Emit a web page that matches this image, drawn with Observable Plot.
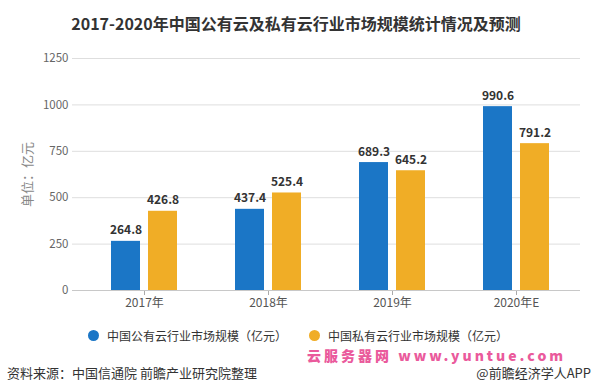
<!DOCTYPE html>
<html><head><meta charset="utf-8">
<script src="https://cdn.jsdelivr.net/npm/d3@7"></script>
<script src="https://cdn.jsdelivr.net/npm/@observablehq/plot@0.6"></script>
<style>
body{margin:0;background:#fff;font-family:"Noto Sans CJK SC","Noto Sans",sans-serif;}
#wrap{position:relative;width:592px;height:391px;overflow:hidden;background:#fff;}
#title{position:absolute;left:0;top:12px;width:592px;text-align:center;font-size:16px;font-weight:bold;color:#333;line-height:22px;}
#chart{position:absolute;left:0;top:46px;}
#legend{position:absolute;left:88px;top:328.5px;display:flex;gap:22px;font-size:12px;color:#333;line-height:14px;}
#legend .item{display:flex;align-items:center;gap:8px;}
#legend .dot{width:11px;height:11px;border-radius:50%;}
#wm{position:absolute;left:307px;top:347.5px;font-size:14px;font-weight:900;letter-spacing:3px;color:#ea5a9c;line-height:14px;white-space:nowrap;}
#src{position:absolute;left:7px;top:365px;font-size:13px;color:#333;line-height:16px;white-space:nowrap;}
#app{position:absolute;right:1px;top:365px;font-size:13px;color:#333;line-height:16px;white-space:nowrap;}
</style></head><body>
<div id="wrap">
<div id="title">2017-2020年中国公有云及私有云行业市场规模统计情况及预测</div>
<div id="chart"></div>
<div id="legend"></div>
<div id="wm">云服务器网 www.yuntue.com</div>
<div id="src">资料来源：中国信通院 前瞻产业研究院整理</div>
<div id="app">@前瞻经济学人APP</div>
</div>
<script>
const years = ["2017年", "2018年", "2019年", "2020年E"];
const publicCloud = [264.8, 437.4, 689.3, 990.6];
const privateCloud = [426.8, 525.4, 645.2, 791.2];
const seriesNames = ["中国公有云行业市场规模（亿元）", "中国私有云行业市场规模（亿元）"];
const seriesColors = ["#1b76c6", "#f0ad26"];
const yTicks = [0, 250, 500, 750, 1000, 1250];
const yLabel = "单位：亿元";

const font = '"Noto Sans CJK SC","Noto Sans",sans-serif';
const pub = years.map((y, i) => ({year: y, value: publicCloud[i]}));
const pri = years.map((y, i) => ({year: y, value: privateCloud[i]}));
const barOpts = {x: "year", y: "value", insetLeft: 47.5, insetRight: 47.5};
const txtOpts = {x: "year", y: "value", text: d => d.value.toFixed(1), dy: -7, lineAnchor: "bottom",
  fontWeight: "bold", fill: "#333", fontSize: 12};

const chart = Plot.plot({
  width: 592, height: 264,
  marginTop: 12, marginBottom: 20, marginLeft: 72, marginRight: 12,
  style: {fontFamily: font, background: "transparent", overflow: "visible"},
  x: {domain: years, range: [82, 578], padding: 0},
  y: {domain: [0, 1250]},
  marks: [
    Plot.gridY(yTicks, {stroke: "#dedede", strokeOpacity: 1}),
    Plot.axisY(yTicks, {tickSize: 0, tickPadding: 4, fill: "#666", fontSize: 11.5, tickFormat: d => String(d),
      label: yLabel, labelAnchor: "center", labelArrow: "none", labelOffset: 50}),
    Plot.axisX({tickSize: 5, tickPadding: 3, stroke: "#aaa", fill: "#555", fontSize: 12, label: null}),
    Plot.ruleY([0], {stroke: "#c8c8c8"}),
    Plot.barY(pub, {...barOpts, fill: seriesColors[0], dx: -18.5}),
    Plot.barY(pri, {...barOpts, fill: seriesColors[1], dx: 18.5}),
    Plot.text(pub, {...txtOpts, dx: -18.5}),
    Plot.text(pri, {...txtOpts, dx: 18.5})
  ]
});
chart.querySelectorAll("text").forEach(t => { if (t.textContent === yLabel) { t.setAttribute("fill", "#888"); t.style.fontSize = "13px"; } });
document.getElementById("chart").appendChild(chart);

const legend = document.getElementById("legend");
seriesNames.forEach((n, i) => {
  const it = document.createElement("div"); it.className = "item";
  const d = document.createElement("span"); d.className = "dot"; d.style.background = seriesColors[i];
  const s = document.createElement("span"); s.textContent = n;
  it.appendChild(d); it.appendChild(s); legend.appendChild(it);
});
</script>
</body></html>
